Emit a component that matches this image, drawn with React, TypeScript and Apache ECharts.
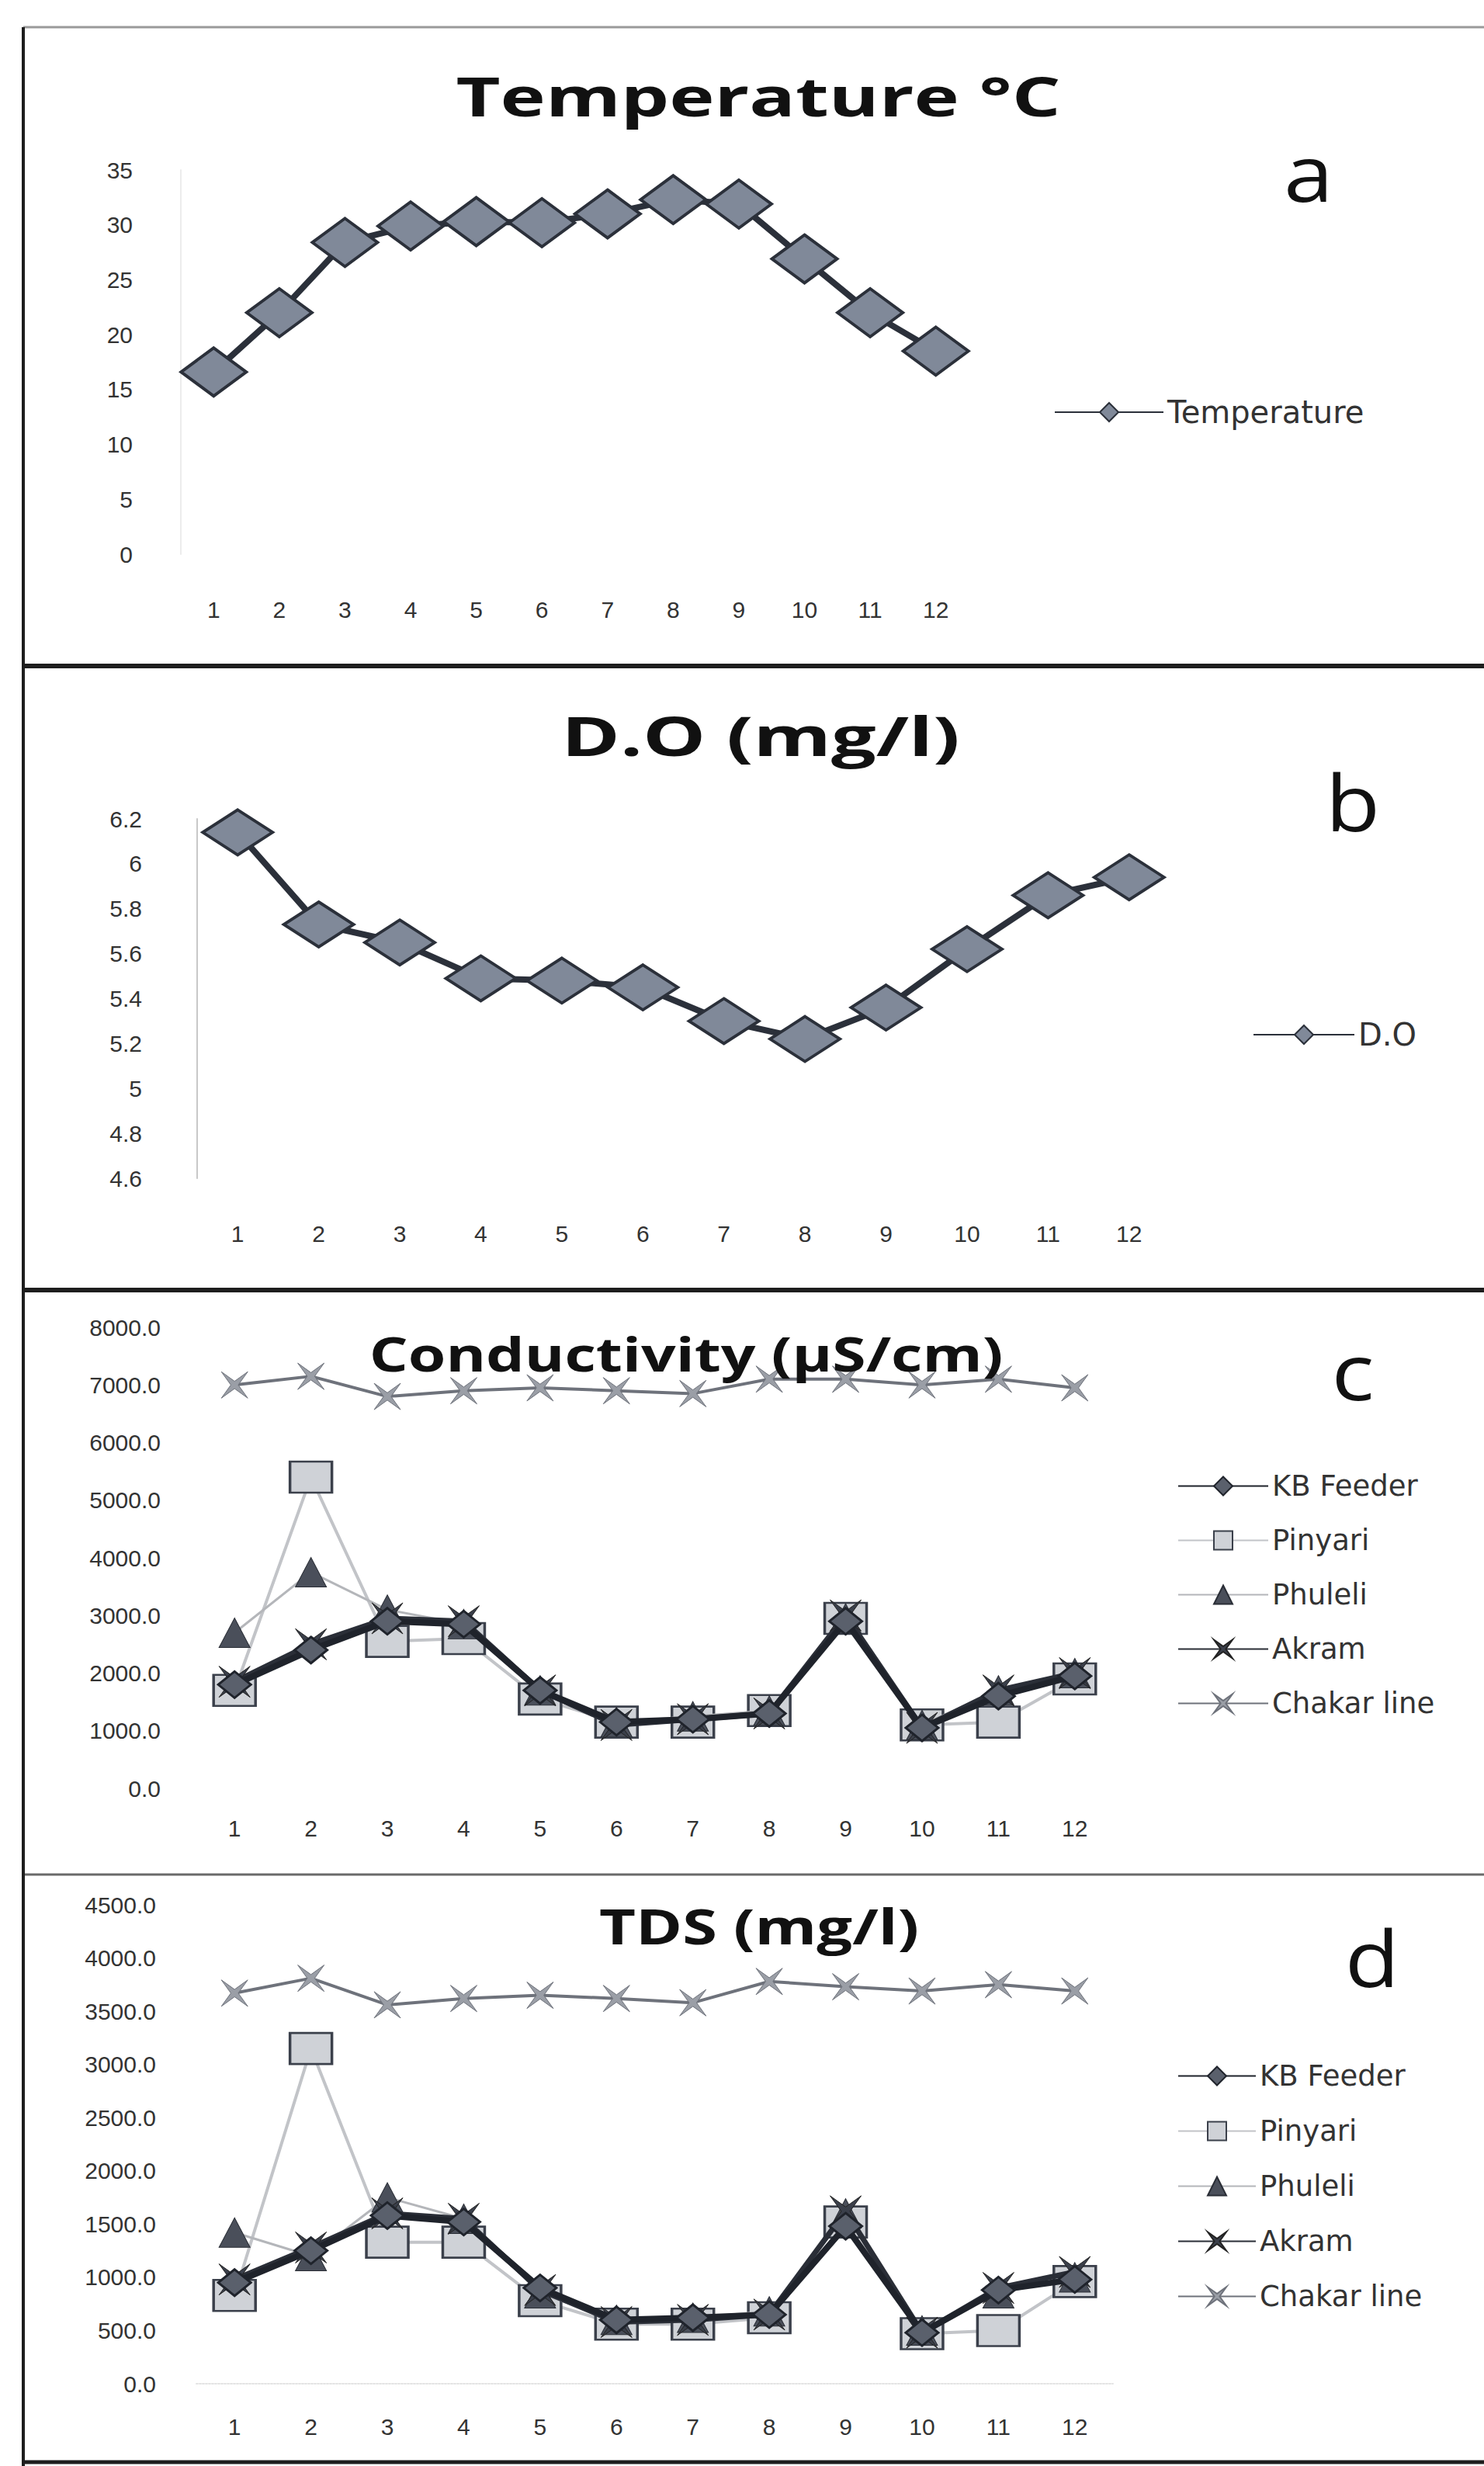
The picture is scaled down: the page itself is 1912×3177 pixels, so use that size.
import React, { useEffect, useRef } from 'react';
import * as echarts from 'echarts';

const months = ['1', '2', '3', '4', '5', '6', '7', '8', '9', '10', '11', '12'];

const temperature = [16.6, 22.0, 28.4, 29.9, 30.3, 30.2, 31.0, 32.3, 31.9, 26.9, 22.0, 18.5];
const dissolvedOxygen = [6.14, 5.73, 5.65, 5.49, 5.48, 5.45, 5.3, 5.22, 5.36, 5.62, 5.86, 5.94];

const stationNames = ['KB Feeder', 'Pinyari', 'Phuleli', 'Akram', 'Chakar line'];

const condKBFeeder = [1800, 2400, 2900, 2850, 1700, 1150, 1200, 1300, 2900, 1050, 1600, 1950];
const condPinyari = [1700, 5400, 2550, 2600, 1550, 1150, 1150, 1350, 2950, 1100, 1150, 1900];
const condPhuleli = [2700, 3750, 3100, 2850, 1700, 1150, 1250, 1350, 2950, 1100, 1700, 2000];
const condAkram = [1850, 2500, 2950, 2900, 1700, 1100, 1200, 1300, 3000, 1050, 1700, 2000];
const condChakar = [7000, 7150, 6800, 6900, 6950, 6900, 6850, 7100, 7100, 7000, 7100, 6950];

const tdsKBFeeder = [950, 1250, 1580, 1520, 900, 600, 620, 650, 1480, 480, 880, 980];
const tdsPinyari = [830, 3150, 1330, 1330, 780, 560, 560, 620, 1520, 470, 500, 960];
const tdsPhuleli = [1420, 1200, 1750, 1550, 850, 600, 620, 680, 1600, 500, 850, 1000];
const tdsAkram = [980, 1280, 1600, 1550, 880, 580, 600, 650, 1620, 480, 900, 1050];
const tdsChakar = [3670, 3810, 3560, 3620, 3650, 3620, 3580, 3780, 3730, 3690, 3750, 3690];

const titles = ['Temperature °C', 'D.O (mg/l)', 'Conductivity (µS/cm)', 'TDS (mg/l)'];
const panelLetters = ['a', 'b', 'c', 'd'];

const STAR = 'path://M0,0L5,3.6L10,0L6.4,5L10,10L5,6.4L0,10L3.6,5Z';
const FONT = 'Liberation Sans';
const LEGEND_FONT = 'DejaVu Sans';

function stationSeries(grid: number, vals: number[][]) {
  const [kb, pin, phu, akr, chk] = vals;
  return [
    {
      name: stationNames[4], type: 'line', xAxisIndex: grid, yAxisIndex: grid, data: chk, z: 2,
      symbol: STAR, symbolSize: [34, 34],
      lineStyle: { color: '#6e727b', width: 4 },
      itemStyle: { color: '#9a9ea6', borderColor: '#6e727b', borderWidth: 1 },
    },
    {
      name: stationNames[1], type: 'line', xAxisIndex: grid, yAxisIndex: grid, data: pin, z: 3,
      symbol: 'rect', symbolSize: [54, 40],
      lineStyle: { color: '#c2c4c8', width: 4 },
      itemStyle: { color: '#cfd2d7', borderColor: '#3b404b', borderWidth: 3 },
    },
    {
      name: stationNames[2], type: 'line', xAxisIndex: grid, yAxisIndex: grid, data: phu, z: 4,
      symbol: 'triangle', symbolSize: [40, 38],
      lineStyle: { color: '#b4b6ba', width: 3 },
      itemStyle: { color: '#4a4f5a', borderColor: '#2a2e36', borderWidth: 1 },
    },
    {
      name: stationNames[3], type: 'line', xAxisIndex: grid, yAxisIndex: grid, data: akr, z: 5,
      symbol: STAR, symbolSize: [40, 40],
      lineStyle: { color: '#2a2e37', width: 7 },
      itemStyle: { color: '#3a3f4a', borderColor: '#222', borderWidth: 1 },
    },
    {
      name: stationNames[0], type: 'line', xAxisIndex: grid, yAxisIndex: grid, data: kb, z: 6,
      symbol: 'diamond', symbolSize: [42, 34],
      lineStyle: { color: '#1f232b', width: 8 },
      itemStyle: { color: '#5a606c', borderColor: '#1f232b', borderWidth: 3 },
    },
  ];
}

const grids = [
  { left: 233, top: 219, width: 1015, height: 495 },
  { left: 254, top: 1055, width: 1253, height: 463 },
  { left: 253, top: 1710, width: 1181, height: 594 },
  { left: 253, top: 2454, width: 1181, height: 617 },
];

const xMargins = [56, 56, 36, 40];
const yMargins = [62, 71, 46, 52];

function buildOption() {
  const xAxis = grids.map((_, i) => ({
    type: 'category', gridIndex: i, data: months, boundaryGap: true,
    axisTick: { show: false },
    axisLine: { show: i === 3, lineStyle: { color: '#e4e4e4', width: 2, type: 'dotted' } },
    axisLabel: { margin: xMargins[i], fontSize: 30, color: '#333', fontFamily: FONT },
  }));
  const yCfg = [
    { min: 0, max: 35, interval: 5, fmt: (v: number) => String(v) },
    { min: 4.6, max: 6.2, interval: 0.2, fmt: (v: number) => String(parseFloat(v.toFixed(1))) },
    { min: 0, max: 8000, interval: 1000, fmt: (v: number) => v.toFixed(1) },
    { min: 0, max: 4500, interval: 500, fmt: (v: number) => v.toFixed(1) },
  ];
  const yAxis = yCfg.map((c, i) => ({
    type: 'value', gridIndex: i, min: c.min, max: c.max, interval: c.interval,
    splitLine: { show: false },
    axisTick: { show: false },
    axisLine: { show: i < 2, lineStyle: { color: i === 0 ? '#ececec' : '#c8c8c8', width: 2 } },
    axisLabel: { margin: yMargins[i], fontSize: 30, color: '#333', fontFamily: FONT, formatter: c.fmt },
  }));

  const series: any[] = [
    {
      name: 'Temperature', type: 'line', xAxisIndex: 0, yAxisIndex: 0, data: temperature,
      symbol: 'diamond', symbolSize: [84, 62],
      lineStyle: { color: '#2b303a', width: 8 },
      itemStyle: { color: '#808999', borderColor: '#2b303a', borderWidth: 4 },
    },
    {
      name: 'D.O', type: 'line', xAxisIndex: 1, yAxisIndex: 1, data: dissolvedOxygen,
      symbol: 'diamond', symbolSize: [90, 58],
      lineStyle: { color: '#2b303a', width: 8 },
      itemStyle: { color: '#808999', borderColor: '#2b303a', borderWidth: 4 },
    },
    ...stationSeries(2, [condKBFeeder, condPinyari, condPhuleli, condAkram, condChakar]),
    ...stationSeries(3, [tdsKBFeeder, tdsPinyari, tdsPhuleli, tdsAkram, tdsChakar]),
  ];

  const legendBig = { fontSize: 40, color: '#333', fontFamily: LEGEND_FONT };
  const legendMid = { fontSize: 37, color: '#333', fontFamily: LEGEND_FONT };
  const legend = [
    { data: ['Temperature'], left: 1353, top: 506, itemWidth: 140, itemHeight: 30, textStyle: legendBig },
    { data: ['D.O'], left: 1609, top: 1308, itemWidth: 130, itemHeight: 30, textStyle: legendBig },
    { data: stationNames, orient: 'vertical', left: 1512, top: 1891, itemWidth: 116, itemHeight: 30, itemGap: 33, textStyle: legendMid },
    { data: stationNames, orient: 'vertical', left: 1512, top: 2651, itemWidth: 100, itemHeight: 30, itemGap: 34, textStyle: legendMid },
  ];

  const titleCfg = [
    { x: 977, y: 123, size: 70, sx: 1.41 },
    { x: 980, y: 947, size: 70, sx: 1.46 },
    { x: 884, y: 1743, size: 60, sx: 1.31 },
    { x: 978, y: 2481, size: 62, sx: 1.31 },
  ];
  const letterPos = [[1686, 271], [1743, 1082], [1743, 1815], [1768, 2571]];

  const graphic: any[] = [];
  titles.forEach((t, i) => {
    const c = titleCfg[i];
    graphic.push({
      type: 'text', x: c.x, y: c.y, scaleX: c.sx, z: 10,
      style: { text: t, fill: '#111', font: `bold ${c.size}px "Open Sans"`, textAlign: 'center', textVerticalAlign: 'middle' },
    });
  });
  panelLetters.forEach((l, i) => {
    graphic.push({
      type: 'text', x: letterPos[i][0], y: letterPos[i][1], scaleX: 1.15,
      style: { text: l, fill: '#111', font: `100px "Open Sans"`, textAlign: 'center', textVerticalAlign: 'bottom' },
    });
  });
  const hLines = [
    { y: 35, c: '#9a9a9a', w: 3 },
    { y: 858, c: '#1e1e1e', w: 6 },
    { y: 1662, c: '#1e1e1e', w: 6 },
    { y: 2415, c: '#6a6a6a', w: 3 },
    { y: 3172, c: '#1e1e1e', w: 5 },
  ];
  hLines.forEach((h) => {
    graphic.push({ type: 'line', shape: { x1: 30, y1: h.y, x2: 1912, y2: h.y }, style: { stroke: h.c, lineWidth: h.w } });
  });
  graphic.push({ type: 'line', shape: { x1: 30, y1: 35, x2: 30, y2: 3177 }, style: { stroke: '#1e1e1e', lineWidth: 4 } });

  return {
    animation: false,
    backgroundColor: '#ffffff',
    grid: grids,
    xAxis,
    yAxis,
    legend,
    series,
    graphic,
  };
}

export default function App() {
  const ref = useRef<HTMLDivElement>(null);
  useEffect(() => {
    if (!ref.current) return;
    const chart = echarts.init(ref.current, null, { renderer: 'svg' });
    chart.setOption(buildOption() as any);
    return () => chart.dispose();
  }, []);
  return (
    <div
      ref={ref}
      style={{ position: 'absolute', left: 0, top: 0, width: 1912, height: 3177, background: '#fff' }}
    />
  );
}
